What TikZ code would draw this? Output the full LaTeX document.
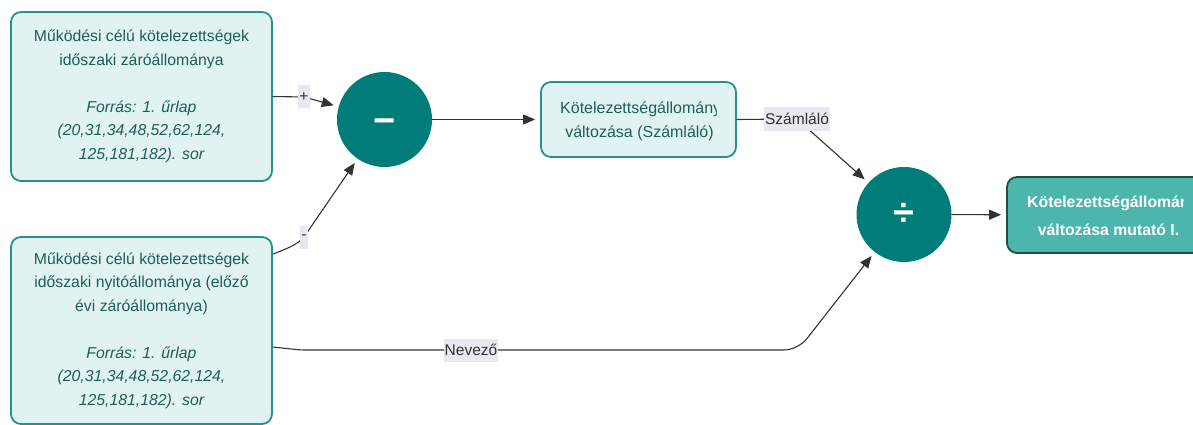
\documentclass[tikz,border=0pt]{standalone}
\usepackage{fontspec}
\setmainfont{Liberation Sans}
\usetikzlibrary{arrows.meta,calc}
\definecolor{boxfill}{HTML}{E0F2F1}
\definecolor{boxline}{HTML}{26928B}
\definecolor{boxtext}{HTML}{1F5E59}
\definecolor{opfill}{HTML}{007D78}
\definecolor{resfill}{HTML}{4DB6AC}
\definecolor{resline}{HTML}{1E4E4A}
\definecolor{lblfill}{HTML}{E8E8F0}
\definecolor{lbltext}{HTML}{333333}
\definecolor{wire}{HTML}{333333}
\begin{document}
\begin{tikzpicture}[x=1pt,y=-1pt,
  srcbox/.style={draw=boxline, fill=boxfill, line width=1.8pt, rounded corners=10pt,
    minimum width=261pt, inner sep=0pt, align=center, text=boxtext,
    font=\fontsize{15.8}{23.5}\selectfont},
  midbox/.style={draw=boxline, fill=boxfill, line width=1.8pt, rounded corners=10pt,
    minimum width=195pt, minimum height=75pt, inner sep=0pt},
  resbox/.style={draw=resline, fill=resfill, line width=1.8pt, rounded corners=10pt,
    minimum width=196pt, minimum height=76pt, inner sep=0pt},
  opnode/.style={circle, fill=opfill, minimum size=95pt, inner sep=0pt, text=white,
    font=\fontsize{38}{38}\selectfont\bfseries},
  boxline1/.style={inner sep=0pt, text=boxtext, font=\fontsize{16}{23.5}\selectfont},
  resline1/.style={inner sep=0pt, text=white, font=\fontsize{15.8}{23.5}\selectfont\bfseries},
  lbl/.style={sharp corners, fill=lblfill, text=lbltext, inner xsep=1pt, inner ysep=0pt,
    minimum height=23pt, font=\fontsize{15.5}{18}\selectfont},
  conn/.style={draw=wire, line width=1.1pt, -{Triangle[length=12pt,width=10pt]},
    shorten >=5pt}
]
\clip (0,0) rectangle (1193,425);

% source boxes
\node[srcbox, minimum height=169pt] (A) at (141.5,96.5)
  {Működési célú kötelezettségek\\
   időszaki záróállománya\\[23.5pt]
   {\itshape Forrás: 1. űrlap}\\
   {\itshape (20,31,34,48,52,62,124,}\\
   {\itshape 125,181,182). sor}};
\node[srcbox, minimum height=187pt] (B) at (141.5,330.5)
  {Működési célú kötelezettségek\\
   időszaki nyitóállománya (előző\\
   évi záróállománya)\\[23.5pt]
   {\itshape Forrás: 1. űrlap}\\
   {\itshape (20,31,34,48,52,62,124,}\\
   {\itshape 125,181,182). sor}};

% operators (the minus glyph is placed on the circle centre by hand)
\node[opnode] (minus) at (384.5,119.5) {\raisebox{-14pt}[0pt][0pt]{−}};
\node[opnode] (div) at (904,214.5) {÷};

% intermediate box, first line overflows and is clipped
\node[midbox] (C) at (638.5,119.5) {};
\begin{scope}
  \clip (559,84) rectangle (716,155);
  \node[boxline1, anchor=base west] (C1) at (560,113.5) {Kötelezettségállomány};
\end{scope}
\node[boxline1, anchor=base] (C2) at (639.5,137) {változása (Számláló)};

% result box
\node[resbox] (D) at (1105,215) {};
\begin{scope}
  \clip (1025,179) rectangle (1183,251);
  \node[resline1, anchor=base west] (D1) at (1027,207.5) {Kötelezettségállomány};
\end{scope}
\node[resline1, anchor=base] (D2) at (1108.5,235) {változása mutató I.};

% connectors
\draw[conn] (A.east) -- (304,97) node[lbl] (lplus) {+} -- (minus);
\draw[conn] ([yshift=-18pt]B.north east)
  .. controls (286,249) and (297,245) .. (304,237) node[lbl] (lminus) {-} -- (minus);
\draw[conn] (minus) -- (C);
\draw[conn] (C.east) -- (797,119) node[lbl] (lnum) {Számláló} -- (div);
\draw[conn, rounded corners=14pt] ([yshift=-16.5pt]B.east)
  .. controls (300,350) .. (322,350) -- (471,350) node[lbl] (lden) {Nevező}
  -- (798,350) -- (div);
\draw[conn] (div) -- (D);
\end{tikzpicture}
\end{document}
